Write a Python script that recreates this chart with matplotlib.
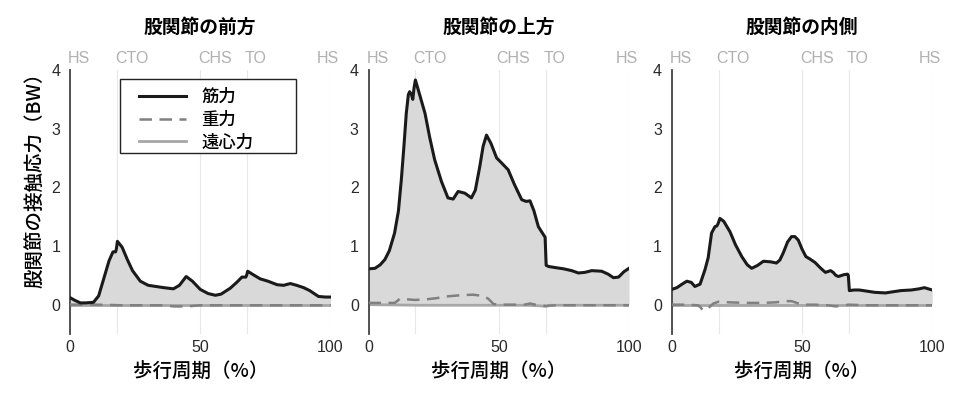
import matplotlib
matplotlib.use("Agg")
import matplotlib.pyplot as plt
from matplotlib.lines import Line2D
from matplotlib.patches import Rectangle

plt.rcParams['font.family'] = ['Noto Sans CJK JP', 'DejaVu Sans']

titles = ["股関節の前方", "股関節の上方", "股関節の内側"]
event_names = ["HS", "CTO", "CHS", "TO", "HS"]
event_pos = [0, 18, 50, 68, 100]
legend_labels = ["筋力", "重力", "遠心力"]
ylabel = "股関節の接触応力（BW）"
xlabel = "歩行周期（%）"

# Panel 1: anterior
ant_x = [0, 2, 4, 6, 9, 11, 13, 15, 16.5, 17.5, 17.8, 18.2, 20, 22, 24, 27, 30, 33, 36, 39.7, 42, 44.6, 47, 50, 53, 55.8, 58, 61.5, 64, 66, 67.5, 67.8, 68.2, 70, 73, 76, 79.5, 82, 84.6, 87, 89.7, 92, 95.4, 98, 100]
ant_mus = [0.12, 0.07, 0.03, 0.03, 0.04, 0.15, 0.45, 0.75, 0.9, 0.9, 0.95, 1.08, 0.98, 0.77, 0.58, 0.4, 0.33, 0.31, 0.29, 0.27, 0.33, 0.48, 0.4, 0.26, 0.19, 0.16, 0.18, 0.28, 0.38, 0.47, 0.47, 0.5, 0.57, 0.52, 0.44, 0.4, 0.34, 0.33, 0.36, 0.33, 0.29, 0.24, 0.14, 0.13, 0.13]
ant_grav_x = [0, 10, 20, 35, 40, 45, 50, 60, 68, 80, 100]
ant_grav = [0.0, 0.0, -0.01, -0.01, -0.03, -0.03, -0.01, -0.01, -0.01, -0.01, -0.01]
ant_cent_x = [0, 50, 100]
ant_cent = [0.0, 0.0, 0.0]

# Panel 2: superior
sup_x = [0, 2.5, 4.5, 6.3, 8, 10, 11.5, 12.6, 13.6, 14.5, 15.3, 15.8, 16.5, 17, 17.5, 18, 19.5, 21.7, 23.5, 25.4, 28, 30.5, 32.5, 34.4, 37, 39.5, 41, 42.7, 44, 45.3, 47, 49.2, 51, 53.6, 56, 58.8, 60.5, 62, 63.5, 65.2, 67.2, 67.8, 68.2, 69.2, 72, 75, 78, 80.6, 83, 85.7, 89.5, 92, 94, 96, 98, 100]
sup_mus = [0.61, 0.62, 0.68, 0.77, 0.92, 1.22, 1.6, 2.13, 2.7, 3.26, 3.58, 3.63, 3.58, 3.5, 3.7, 3.83, 3.6, 3.26, 2.85, 2.47, 2.1, 1.82, 1.8, 1.93, 1.9, 1.82, 1.95, 2.35, 2.7, 2.89, 2.75, 2.5, 2.42, 2.3, 2.05, 1.79, 1.76, 1.77, 1.6, 1.33, 1.19, 1.15, 0.67, 0.65, 0.63, 0.61, 0.58, 0.54, 0.55, 0.58, 0.57, 0.52, 0.46, 0.47, 0.56, 0.62]
sup_grav_x = [0, 5, 10, 11, 12, 15, 18, 22, 26, 30, 35, 40, 44, 46, 48, 50, 55, 60, 62, 64, 68, 72, 80, 90, 100]
sup_grav = [0.03, 0.03, 0.03, 0.06, 0.1, 0.09, 0.08, 0.09, 0.11, 0.14, 0.16, 0.17, 0.15, 0.1, 0.01, 0.0, 0.0, 0.0, 0.02, 0.0, -0.02, -0.01, -0.01, -0.01, -0.01]
sup_cent_x = [0, 20, 40, 60, 66, 68, 70, 100]
sup_cent = [0.0, -0.01, -0.01, -0.01, -0.02, -0.03, -0.01, -0.01]

# Panel 3: medial
med_x = [0, 2, 4, 5.8, 7.5, 8.9, 10.9, 12.8, 14, 15.3, 16.6, 17.3, 17.8, 18.5, 20, 22.4, 24.5, 26.9, 29, 30.7, 33, 35.2, 38, 40.2, 41.5, 42.8, 44.5, 46, 47.3, 48.6, 50, 51.5, 53, 55, 57, 59, 61, 62, 63, 64, 66, 67.5, 67.8, 68.2, 70, 72, 75, 78, 82, 85, 88, 92, 95, 97, 100]
med_mus = [0.26, 0.29, 0.35, 0.4, 0.38, 0.31, 0.35, 0.6, 0.8, 1.22, 1.33, 1.34, 1.38, 1.47, 1.42, 1.24, 1.02, 0.82, 0.68, 0.62, 0.67, 0.74, 0.73, 0.71, 0.76, 0.88, 1.07, 1.16, 1.16, 1.1, 0.95, 0.82, 0.78, 0.72, 0.63, 0.55, 0.58, 0.55, 0.5, 0.48, 0.51, 0.52, 0.5, 0.24, 0.25, 0.25, 0.23, 0.21, 0.2, 0.22, 0.24, 0.25, 0.27, 0.29, 0.25]
med_grav_x = [0, 5, 10, 11, 12, 14, 16, 18, 22, 28, 35, 40, 44, 46, 48, 50, 55, 60, 63, 66, 68, 75, 85, 100]
med_grav = [0.0, 0.0, -0.01, -0.04, -0.1, -0.06, 0.02, 0.05, 0.04, 0.03, 0.03, 0.04, 0.06, 0.06, 0.03, 0.0, 0.0, -0.01, -0.03, -0.01, 0.0, -0.01, -0.01, -0.01]
med_cent_x = [0, 50, 100]
med_cent = [0.0, 0.0, 0.0]

panels = [
    (ant_x, ant_mus, ant_grav_x, ant_grav, ant_cent_x, ant_cent),
    (sup_x, sup_mus, sup_grav_x, sup_grav, sup_cent_x, sup_cent),
    (med_x, med_mus, med_grav_x, med_grav, med_cent_x, med_cent),
]

fig = plt.figure(figsize=(9.76, 3.96), dpi=100)
lefts = [70 / 976, 368.5 / 976, 671.7 / 976]
W = 260.5 / 976
bottom = 1 - 334 / 396
H = (334 - 70) / 396

num_font = ['Liberation Sans', 'DejaVu Sans']

for i, (ax_left, data) in enumerate(zip(lefts, panels)):
    mx, my, gx, gy, cx, cy = data
    ax = fig.add_axes([ax_left, bottom, W, H])
    ax.set_xlim(0, 100)
    ax.set_ylim(-0.5, 4)
    for s in ['top', 'right', 'bottom']:
        ax.spines[s].set_visible(False)
    ax.spines['left'].set_color('#444444')
    ax.spines['left'].set_linewidth(1.3)
    for ev in event_pos:
        ax.axvline(ev, color='#e8e8e8', lw=0.8, zorder=0)
    ax.fill_between(mx, 0, my, color='#d9d9d9', lw=0, zorder=1)
    ax.plot(cx, cy, color='#a6a6a6', lw=2.0, zorder=2)
    ax.plot(gx, gy, color='#808080', lw=1.8, ls=(0, (5, 3)), zorder=3)
    ax.plot(mx, my, color='#1a1a1a', lw=2.2, zorder=4)
    ax.set_yticks([0, 1, 2, 3, 4])
    ax.set_xticks([0, 50, 100])
    ax.tick_params(length=0, labelsize=11.5, colors='#2a2a2a')
    ax.tick_params(axis='y', pad=7)
    ax.tick_params(axis='x', pad=4)
    for lab in ax.get_xticklabels() + ax.get_yticklabels():
        lab.set_family(num_font)
    for k, (ev, name) in enumerate(zip(event_pos, event_names)):
        if k == len(event_pos) - 1:
            ax.text(ev - 1, 4.2, name, ha='center', va='center', color='#b0b0b0',
                    fontsize=11.5, family=num_font)
        else:
            ax.text(ev - 0.8, 4.2, name, ha='left', va='center', color='#b0b0b0',
                    fontsize=11.5, family=num_font)
    ax.set_title(titles[i], fontsize=13.5, fontweight='bold', pad=27)
    ax.set_xlabel(xlabel, fontsize=14, fontweight='medium', labelpad=6)
    if i == 0:
        ax.set_ylabel(ylabel, fontsize=14, fontweight='medium')
        ax.yaxis.set_label_coords(-0.10, 0.60)
        handles = [Line2D([], [], color='#1a1a1a', lw=2.2),
                   Line2D([], [], color='#808080', lw=1.8, ls=(0, (5, 3))),
                   Line2D([], [], color='#a6a6a6', lw=2.0)]
        leg = ax.legend(handles, legend_labels, loc='upper left',
                        bbox_to_anchor=(0.21, 0.985),
                        frameon=False, handlelength=2.75,
                        borderpad=0.3, labelspacing=0.28, handletextpad=0.85,
                        prop={'size': 12.5, 'weight': 'medium'})
        x0 = (120 - 70) / 260.5
        x1 = (296 - 70) / 260.5
        y1 = (334 - 79) / 264
        y0 = (334 - 153) / 264
        ax.add_patch(Rectangle((x0, y0), x1 - x0, y1 - y0, transform=ax.transAxes,
                               fill=True, facecolor='white', edgecolor='#222222',
                               lw=1.0, zorder=5))
        leg.set_zorder(6)

fig.savefig("out.png", dpi=100)
